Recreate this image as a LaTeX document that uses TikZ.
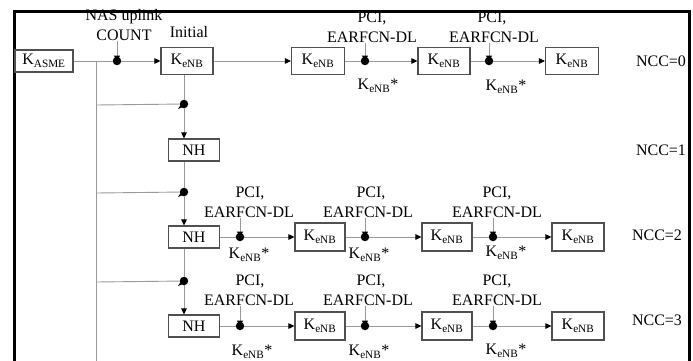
\documentclass[tikz,border=0pt]{standalone}
\usepackage{fontspec}
\setmainfont{Liberation Serif}
\usetikzlibrary{arrows.meta}
\definecolor{linegray}{HTML}{9A9A9A}
\definecolor{boxgray}{HTML}{505050}
\newcommand\capT[1]{\fill ([shift={(-3.2,-5.5)}]#1.center) -- ++(6.4,0) -- (#1.center) -- cycle;}
\newcommand\capL[1]{\fill ([shift={(-6,5)}]#1.center) -- ([shift={(-1,-3)}]#1.center) -- ([shift={(2,2)}]#1.center) -- cycle;}
\begin{document}
\begin{tikzpicture}[x=1pt,y=-1pt,
  every node/.style={font=\fontsize{16}{18}\selectfont},
  kbox/.style={draw=boxgray,line width=1.1pt,minimum width=52pt,minimum height=27pt,inner sep=0pt},
  nhbox/.style={kbox,minimum width=51pt,minimum height=22pt},
  dotc/.style={circle,fill=black,minimum size=8.5pt,inner sep=0pt},
  conn/.style={draw=linegray,line width=0.9pt},
  arr/.style={conn,-{Triangle[length=6pt,width=5.5pt,color=black]}},
  lbl/.style={inner sep=0pt},
  ]
\useasboundingbox (0,0) rectangle (693,360);
\fill[white] (0,0) rectangle (693,360);
% frame
\draw[line width=3pt] (14,361) -- (14,11) -- (689,11) -- (689,361);

% ---------- row 0 ----------
\node[kbox,minimum width=58pt,minimum height=22pt] (kasme) at (44,61) {K\textsubscript{ASME}};
\node[kbox] (kinit) at (187,61) {K\textsubscript{eNB}};
\node[kbox,minimum width=53pt] (k01) at (318,61) {K\textsubscript{eNB}};
\node[kbox] (k02) at (444,61) {K\textsubscript{eNB}};
\node[kbox,minimum width=53pt] (k03) at (572,61) {K\textsubscript{eNB}};
\node[dotc] (d00) at (117,61) {};
\node[dotc] (d01) at (365,61) {};
\node[dotc] (d02) at (489,61) {};
\node[lbl] (nas) at (124,17) {NAS uplink};
\node[lbl] (cnt) at (124,35) {COUNT};
\node[lbl] (ini) at (189,32) {Initial};
\node[lbl] (p01) at (372,18) {PCI,};
\node[lbl] (e01) at (372,37) {EARFCN-DL};
\node[lbl] (s01) at (378,86) {K\textsubscript{eNB}*};
\node[lbl] (p02) at (492,18) {PCI,};
\node[lbl] (e02) at (494,37) {EARFCN-DL};
\node[lbl] (s02) at (506,87) {K\textsubscript{eNB}*};
\node[lbl] (ncc0) at (661,61) {NCC=0};

\coordinate (t0) at (96,61);
\coordinate (tb) at (96,361);
\draw[conn] (kasme) -- (d00);
\draw[arr] (d00) -- (kinit);
\draw[conn] (cnt.south -| d00) -- (d00);
\draw[arr] (kinit) -- (k01);
\draw[conn] (k01) -- (d01);
\draw[arr] (d01) -- (k02);
\draw[conn] (k02) -- (d02);
\draw[arr] (d02) -- (k03);
\draw[conn] (e01.south -| d01) -- (d01);
\draw[conn] (e02.south -| d02) -- (d02);
\draw[conn] (t0) -- (tb);
\capT{d00}\capT{d01}\capT{d02}

% ---------- row 1 ----------
\node[dotc] (m1) at (184,104) {};
\node[nhbox] (nh1) at (194,150) {NH};
\node[lbl] (ncc1) at (661,150) {NCC=1};
\coordinate (b1) at (96,105);
\draw[conn] (b1) -- (m1);
\draw[conn] (kinit.south -| m1) -- (m1);
\draw[arr] (m1) -- (nh1.north -| m1);
\capL{m1}

% ---------- row 2 ----------
\node[dotc] (m2) at (184,192) {};
\node[nhbox] (nh2) at (194,237) {NH};
\node[dotc] (d20) at (240,237) {};
\node[kbox,minimum width=50pt,minimum height=28pt] (k21) at (320,237) {K\textsubscript{eNB}};
\node[dotc] (d21) at (365,237) {};
\node[kbox,minimum width=50pt,minimum height=28pt] (k22) at (447,237) {K\textsubscript{eNB}};
\node[dotc] (d22) at (493,237) {};
\node[kbox,minimum width=52pt,minimum height=28pt] (k23) at (578,237) {K\textsubscript{eNB}};
\node[lbl] (p20) at (250,193) {PCI,};
\node[lbl] (e20) at (249,212) {EARFCN-DL};
\node[lbl] (s20) at (249,255) {K\textsubscript{eNB}*};
\node[lbl] (p21) at (371,193) {PCI,};
\node[lbl] (e21) at (368,212) {EARFCN-DL};
\node[lbl] (s21) at (369,255) {K\textsubscript{eNB}*};
\node[lbl] (p22) at (497,193) {PCI,};
\node[lbl] (e22) at (497,212) {EARFCN-DL};
\node[lbl] (s22) at (506,253) {K\textsubscript{eNB}*};
\node[lbl] (ncc2) at (657,235) {NCC=2};
\coordinate (b2) at (96,193);
\draw[conn] (b2) -- (m2);
\draw[conn] (nh1.south -| m2) -- (m2);
\draw[arr] (m2) -- (nh2.north -| m2);
\draw[conn] (nh2) -- (d20);
\draw[arr] (d20) -- (k21);
\draw[conn] (k21) -- (d21);
\draw[arr] (d21) -- (k22);
\draw[conn] (k22) -- (d22);
\draw[arr] (d22) -- (k23);
\draw[conn] (e20.south -| d20) -- (d20);
\draw[conn] (e21.south -| d21) -- (d21);
\draw[conn] (e22.south -| d22) -- (d22);
\capL{m2}\capT{d20}\capT{d21}\capT{d22}

% ---------- row 3 ----------
\node[dotc] (m3) at (184,281) {};
\node[nhbox] (nh3) at (194,326) {NH};
\node[dotc] (d30) at (240,326) {};
\node[kbox,minimum width=50pt,minimum height=28pt] (k31) at (320,326) {K\textsubscript{eNB}};
\node[dotc] (d31) at (365,326) {};
\node[kbox,minimum width=50pt,minimum height=28pt] (k32) at (447,326) {K\textsubscript{eNB}};
\node[dotc] (d32) at (493,326) {};
\node[kbox,minimum width=52pt,minimum height=28pt] (k33) at (578,326) {K\textsubscript{eNB}};
\node[lbl] (p30) at (250,281) {PCI,};
\node[lbl] (e30) at (249,300) {EARFCN-DL};
\node[lbl] (s30) at (252,352) {K\textsubscript{eNB}*};
\node[lbl] (p31) at (371,281) {PCI,};
\node[lbl] (e31) at (368,300) {EARFCN-DL};
\node[lbl] (s31) at (369,352) {K\textsubscript{eNB}*};
\node[lbl] (p32) at (497,281) {PCI,};
\node[lbl] (e32) at (497,300) {EARFCN-DL};
\node[lbl] (s32) at (506,351) {K\textsubscript{eNB}*};
\node[lbl] (ncc3) at (657,320) {NCC=3};
\coordinate (b3) at (96,282);
\draw[conn] (b3) -- (m3);
\draw[conn] (nh2.south -| m3) -- (m3);
\draw[arr] (m3) -- (nh3.north -| m3);
\draw[conn] (nh3) -- (d30);
\draw[arr] (d30) -- (k31);
\draw[conn] (k31) -- (d31);
\draw[arr] (d31) -- (k32);
\draw[conn] (k32) -- (d32);
\draw[arr] (d32) -- (k33);
\draw[conn] (e30.south -| d30) -- (d30);
\draw[conn] (e31.south -| d31) -- (d31);
\draw[conn] (e32.south -| d32) -- (d32);
\capL{m3}\capT{d30}\capT{d31}\capT{d32}
\end{tikzpicture}
\end{document}
